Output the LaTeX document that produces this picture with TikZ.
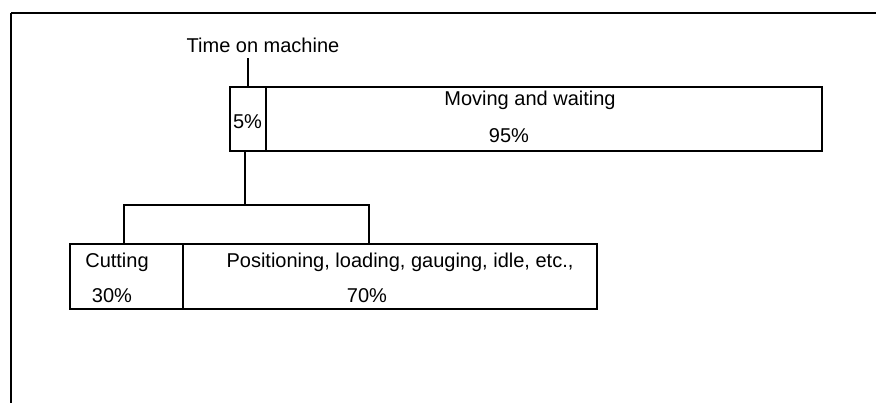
\documentclass[tikz,border=0pt]{standalone}
\usepackage{fontspec}
\setmainfont{Liberation Sans}
\begin{document}
\begin{tikzpicture}[x=1pt,y=-1pt,
  line width=1.6pt,
  every node/.style={font=\fontsize{20}{24}\selectfont, inner sep=0pt, outer sep=0pt},
  bar/.style={draw, rectangle, line width=1.6pt},
  lbl/.style={anchor=center}]
  \useasboundingbox (0,0) rectangle (876,403);
  % frame edges
  \draw (11,13) -- (880,13);
  \draw (11,13) -- (11,410);

  % title
  \node[lbl] (title) at (263,45) {Time on machine};

  % upper bar
  \node[bar, minimum width=36pt, minimum height=64pt] (share) at (248,119) {};
  \node[bar, minimum width=556pt, minimum height=64pt] (move) at (544,119) {};
  \node[lbl] (sharetxt) at (247.5,122) {5\%};
  \node[lbl] (movetxt) at (530,100) {Moving and waiting};
  \node[lbl] (movepct) at (509,136) {95\%};

  % lower bar
  \node[bar, minimum width=113pt, minimum height=65pt] (cut) at (126.5,276.5) {};
  \node[bar, minimum width=414pt, minimum height=65pt] (pos) at (390,276.5) {};
  \node[lbl] (cuttxt) at (117,262) {Cutting};
  \node[lbl] (cutpct) at (112,296) {30\%};
  \node[lbl] (postxt) at (400,262) {Positioning, loading, gauging, idle, etc.,};
  \node[lbl] (pospct) at (367,296) {70\%};

  % connectors
  \draw (share.north) -- (share.north |- 0,58);
  \coordinate (split) at (245,205);
  \coordinate (legL) at (124,205);
  \coordinate (legR) at (369,205);
  \draw (245,151) -- (split);
  \draw (cut.north -| legL) -- (legL) -- (legR) -- (pos.north -| legR);
\end{tikzpicture}
\end{document}
